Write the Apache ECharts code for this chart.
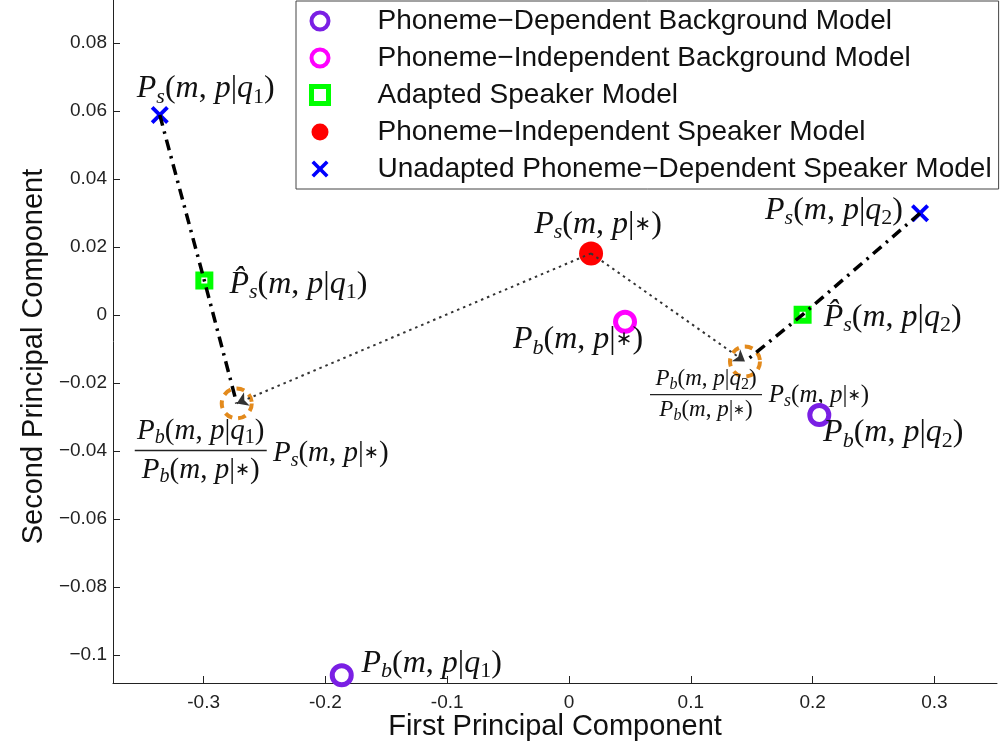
<!DOCTYPE html>
<html><head><meta charset="utf-8">
<script src="https://cdn.jsdelivr.net/npm/echarts@6/dist/echarts.min.js"></script>
<style>html,body{margin:0;padding:0;background:#fff}#c{width:1007px;height:750px}</style>
</head><body><div id="c"></div>
<script>
// ---- axes ----
const xRange = [-0.3744, 0.3514];
const yRange = [-0.1082, 0.0926];
const xTicks = [-0.3, -0.2, -0.1, 0, 0.1, 0.2, 0.3];
const xTickLabels = ['-0.3', '-0.2', '-0.1', '0', '0.1', '0.2', '0.3'];
const yTicks = [-0.1, -0.08, -0.06, -0.04, -0.02, 0, 0.02, 0.04, 0.06, 0.08];
const yTickLabels = ['\u22120.1', '\u22120.08', '\u22120.06', '\u22120.04', '\u22120.02', '0', '0.02', '0.04', '0.06', '0.08'];
const xTitle = 'First Principal Component';
const yTitle = 'Second Principal Component';

// ---- series (x, y) ----
const seriesNames = [
  'Phoneme\u2212Dependent Background Model',
  'Phoneme\u2212Independent Background Model',
  'Adapted Speaker Model',
  'Phoneme\u2212Independent Speaker Model',
  'Unadapted Phoneme\u2212Dependent Speaker Model'
];
const pdBackground = [[-0.1866, -0.1059], [0.2055, -0.0294]];   // Pb(m,p|q1), Pb(m,p|q2)
const piBackground = [[0.046, -0.0020]];                        // Pb(m,p|*)
const adaptedSpeaker = [[-0.2994, 0.0101], [0.1918, 0.0001]];   // P^s(m,p|q1), P^s(m,p|q2)
const piSpeaker = [[0.0181, 0.0181]];                           // Ps(m,p|*)
const unadaptedSpeaker = [[-0.336, 0.0588], [0.2882, 0.0299]];  // Ps(m,p|q1), Ps(m,p|q2)
const scaledSpeaker = [[-0.2728, -0.0260], [0.1445, -0.0137]];  // Pb(q)/Pb(*) Ps(*)

// ---- math label helpers ----
const SERIF = 'Liberation Serif';
function richSet(sfx, size, lh) {
  const sub = Math.round(size * 0.7);
  const o = {};
  o['i' + sfx] = {fontFamily: SERIF, fontStyle: 'italic', fontSize: size, lineHeight: lh, color: '#111'};
  o['r' + sfx] = {fontFamily: SERIF, fontSize: size, lineHeight: lh, color: '#111'};
  o['a' + sfx] = {fontFamily: 'DejaVu Sans', fontSize: Math.round(size * 0.62), lineHeight: lh, color: '#111'};
  o['si' + sfx] = {fontFamily: SERIF, fontStyle: 'italic', fontSize: sub, lineHeight: lh, verticalAlign: 'bottom', color: '#111'};
  o['sr' + sfx] = {fontFamily: SERIF, fontSize: sub, lineHeight: lh, verticalAlign: 'bottom', color: '#111'};
  return o;
}
function Pm(sub, arg, s, hat) {
  const a = arg === '*' ? `{a${s}|\u2217}` : `{i${s}|q}{sr${s}|${arg}}`;
  return `{i${s}|P${hat ? '\u0302' : ''}}{si${s}|${sub}}{r${s}|(}{i${s}|m}{r${s}|, }{i${s}|p}{r${s}||}` + a + `{r${s}|)}`;
}
const rich = Object.assign({},
  richSet('A', 32, 38), richSet('B', 29, 34), richSet('C', 23, 27), richSet('D', 25, 29),
  {barB: {width: 132, height: 1.5, lineHeight: 5, backgroundColor: '#222'},
   barC: {width: 112, height: 1.2, lineHeight: 4, backgroundColor: '#222'}});

const pdLabels = [Pm('b', '1', 'A'), Pm('b', '2', 'A')];
const piBgLabels = [Pm('b', '*', 'A')];
const adaptedLabels = [Pm('s', '1', 'A', true), Pm('s', '2', 'A', true)];
const piSpLabels = [Pm('s', '*', 'A')];
const unadaptedLabels = [Pm('s', '1', 'A'), Pm('s', '2', 'A')];
const fracLabels = [
  Pm('b', '1', 'B') + '\n{barB|}\n' + Pm('b', '*', 'B'),
  Pm('b', '2', 'C') + '\n{barC|}\n' + Pm('b', '*', 'C')
];
const fracTailLabels = [Pm('s', '*', 'B'), Pm('s', '*', 'D')];

function withLabels(points, labels, offsets) {
  return points.map((p, k) => ({
    value: p,
    label: {show: true, position: 'inside', align: 'center', verticalAlign: 'middle',
            formatter: labels[k], offset: offsets[k], rich: rich, color: '#111', opacity: 1}
  }));
}

const purple = '#7a1fe4', magenta = '#ff00ff', green = '#00ff00', red = '#ff0000', blue = '#0000ff', orange = '#e38a1c';
const crossPath = 'path://M3,0 L10,7 L17,0 L20,3 L13,10 L20,17 L17,20 L10,13 L3,20 L0,17 L7,10 L0,3 Z';

const dashDot = {color: '#000', width: 3.5, type: [11, 6, 2.5, 6], opacity: 1};
const dotted = {color: '#333', width: 2, type: [2.5, 4], opacity: 1};

const legendBorders = [4, 4, 5, 0, 0];

const chart = echarts.init(document.getElementById('c'), null, {renderer: 'canvas'});
chart.setOption({
  animation: false,
  backgroundColor: '#fff',
  grid: {left: 113, right: 10, top: 0, bottom: 67, outerBoundsMode: 'none'},
  xAxis: {
    type: 'value', min: xRange[0], max: xRange[1],
    name: xTitle, nameLocation: 'middle', nameGap: 29, nameMoveOverlap: false,
    nameTextStyle: {fontFamily: 'Liberation Sans', fontSize: 29, color: '#111', verticalAlign: 'top'},
    axisLine: {show: true, onZero: false, lineStyle: {color: '#222', width: 1}},
    axisTick: {show: true, inside: true, length: 7, customValues: xTicks, lineStyle: {color: '#222'}},
    axisLabel: {customValues: xTicks, margin: 10, fontFamily: 'Liberation Sans', fontSize: 19, color: '#222',
      formatter: v => { const k = xTicks.findIndex(t => Math.abs(t - v) < 1e-9); return k >= 0 ? xTickLabels[k] : ''; }},
    splitLine: {show: false}
  },
  yAxis: {
    type: 'value', min: yRange[0], max: yRange[1],
    name: yTitle, nameLocation: 'middle', nameGap: 62,
    nameTextStyle: {fontFamily: 'Liberation Sans', fontSize: 29, color: '#111', padding: [0, 30, 0, 0]},
    axisLine: {show: true, onZero: false, lineStyle: {color: '#222', width: 1}},
    axisTick: {show: true, inside: true, length: 7, customValues: yTicks, lineStyle: {color: '#222'}},
    axisLabel: {customValues: yTicks, margin: 6, fontFamily: 'Liberation Sans', fontSize: 19, color: '#222',
      formatter: v => { const k = yTicks.findIndex(t => Math.abs(t - v) < 1e-9); return k >= 0 ? yTickLabels[k] : ''; }},
    splitLine: {show: false}
  },
  legend: {
    data: seriesNames.map((n, k) => ({name: n, itemStyle: {borderWidth: legendBorders[k]}})),
    orient: 'vertical', left: 296, top: 1,
    padding: [6, 7, 6, 13],
    itemWidth: 17, itemHeight: 17, itemGap: 9,
    borderColor: '#444', borderWidth: 1, backgroundColor: '#fff',
    textStyle: {fontFamily: 'Liberation Sans', fontSize: 28, color: '#111', lineHeight: 28, padding: [0, 0, 0, 44]},
    selectedMode: false
  },
  series: [
    {type: 'lines', coordinateSystem: 'cartesian2d', polyline: true, z: 5, silent: true,
     lineStyle: dashDot, symbol: ['none', 'none'],
     data: [{coords: [unadaptedSpeaker[0], adaptedSpeaker[0], scaledSpeaker[0]]},
            {coords: [unadaptedSpeaker[1], adaptedSpeaker[1], scaledSpeaker[1]]}]},
    {type: 'lines', coordinateSystem: 'cartesian2d', z: 5, silent: true,
     lineStyle: dotted, symbol: ['none', 'arrow'], symbolSize: 11,
     data: [{coords: [piSpeaker[0], scaledSpeaker[0]]}, {coords: [piSpeaker[0], scaledSpeaker[1]]}]},
    {name: seriesNames[0], type: 'scatter', symbol: 'circle', symbolSize: 19, z: 3,
     itemStyle: {color: '#fff', borderColor: purple, borderWidth: 5, opacity: 1},
     data: withLabels(pdBackground, pdLabels, [[90, -12], [74, 18]])},
    {name: seriesNames[1], type: 'scatter', symbol: 'circle', symbolSize: 19, z: 3,
     itemStyle: {color: '#fff', borderColor: magenta, borderWidth: 5, opacity: 1},
     data: withLabels(piBackground, piBgLabels, [[-47, 18]])},
    {name: seriesNames[2], type: 'scatter', symbol: 'rect', symbolSize: 12, z: 3,
     itemStyle: {color: '#fff', borderColor: green, borderWidth: 6, opacity: 1},
     data: withLabels(adaptedSpeaker, adaptedLabels, [[94, 4], [90, 3]])},
    {name: seriesNames[3], type: 'scatter', symbol: 'circle', symbolSize: 24, z: 3,
     itemStyle: {color: red, opacity: 1},
     data: withLabels(piSpeaker, piSpLabels, [[7, -29]])},
    {name: seriesNames[4], type: 'scatter', symbol: crossPath, symbolSize: 18, z: 3,
     itemStyle: {color: blue, opacity: 1},
     data: withLabels(unadaptedSpeaker, unadaptedLabels, [[46, -26], [-86, -3]])},
    {name: 'scaled', type: 'scatter', symbol: 'circle', symbolSize: 30, z: 3,
     itemStyle: {color: 'rgba(0,0,0,0)', borderColor: orange, borderWidth: 4, borderType: [8, 6], opacity: 1},
     data: withLabels(scaledSpeaker, fracLabels, [[-36, 47], [-39, 33]])},
    {name: 'scaledTail', type: 'scatter', symbol: 'circle', symbolSize: 1, z: 2, silent: true,
     itemStyle: {color: '#fff', opacity: 1},
     data: withLabels(scaledSpeaker, fracTailLabels, [[94, 50], [74, 34]])}
  ]
});
</script></body></html>
